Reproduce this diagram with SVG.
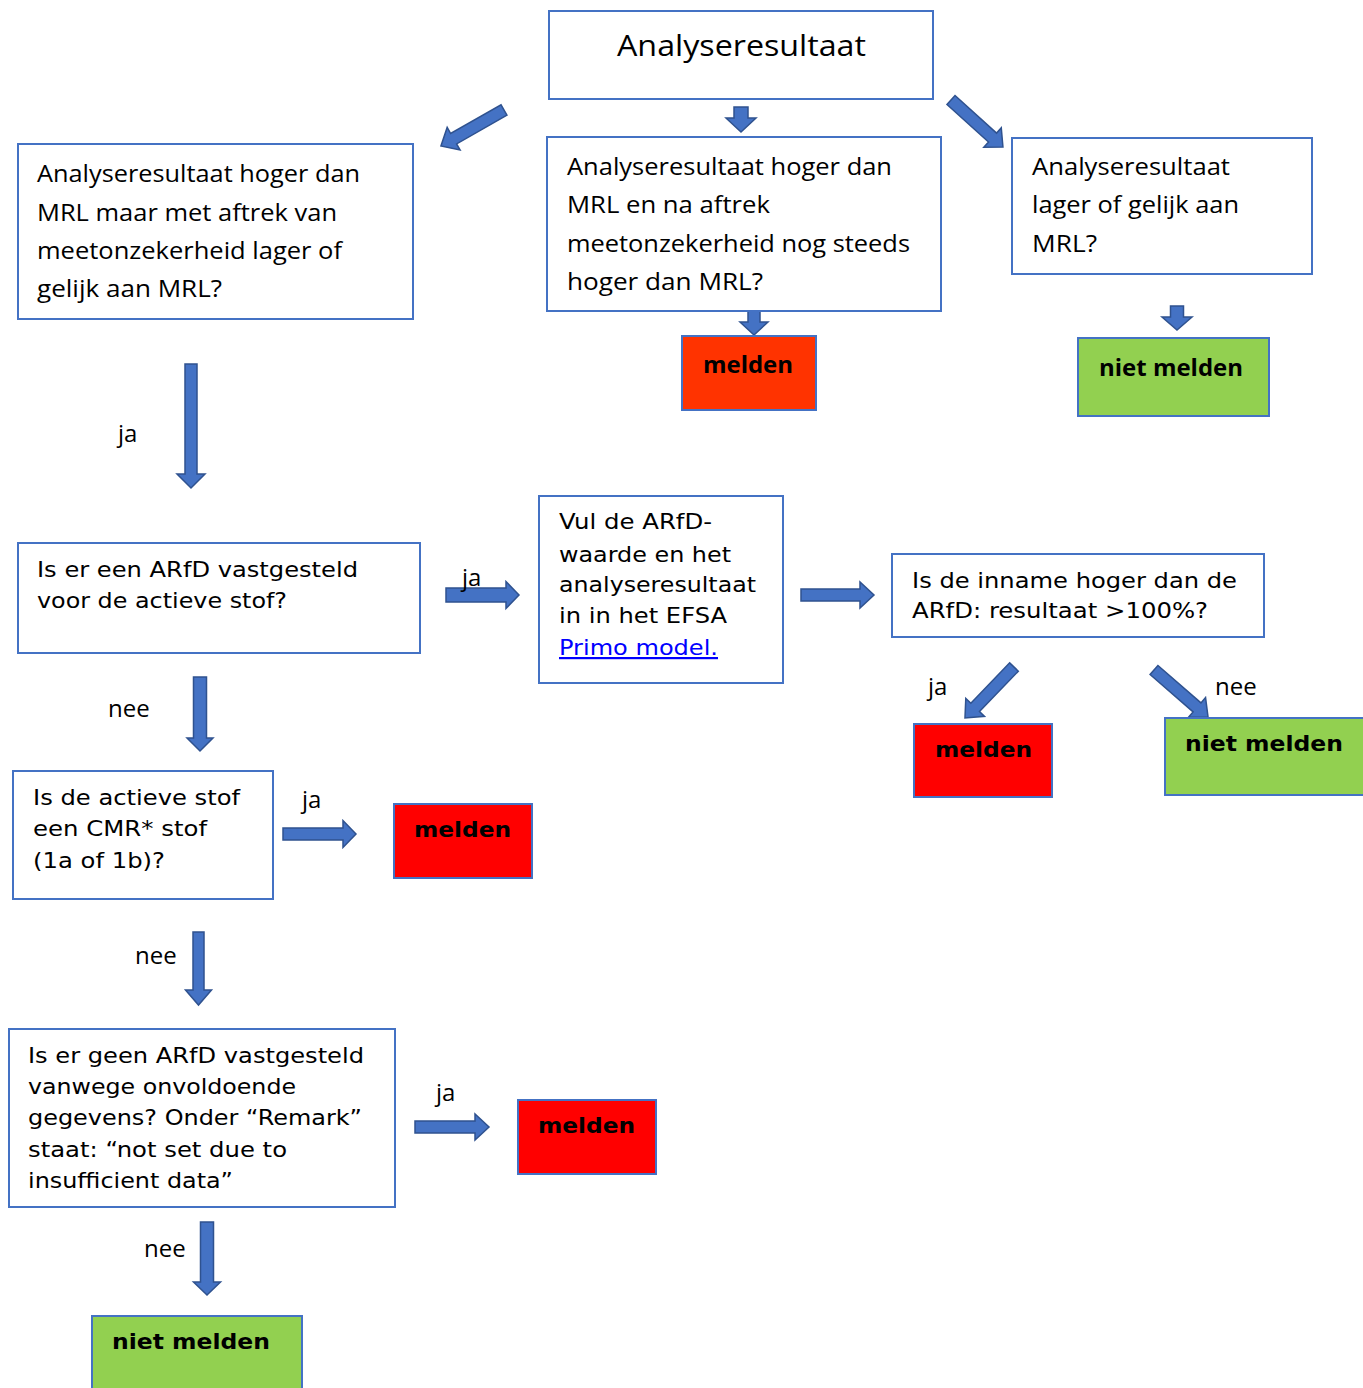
<svg xmlns="http://www.w3.org/2000/svg" width="1363" height="1388" viewBox="0 0 1363 1388">
<style>
.box{fill:#fff;stroke:#4472C4;stroke-width:2}
.red1{fill:#FF3300;stroke:#4472C4;stroke-width:2}
.red{fill:#FF0000;stroke:#4472C4;stroke-width:2}
.green{fill:#92D050;stroke:#4472C4;stroke-width:2}
.arr{fill:#4472C4;stroke:#2F528F;stroke-width:1.5;stroke-linejoin:miter}
.c{font-family:"Open Sans","Noto Sans",sans-serif;font-size:23px;fill:#000}
.cb{font-family:"Open Sans","Noto Sans",sans-serif;font-size:24px;font-weight:bold;fill:#000}
.v{font-family:"DejaVu Sans","Liberation Sans",sans-serif;font-size:22px;fill:#000}
.vb{font-family:"DejaVu Sans","Liberation Sans",sans-serif;font-size:22px;font-weight:bold;fill:#000}
.lbl{font-family:"Open Sans","Noto Sans",sans-serif;font-size:24px;fill:#000}
.link{fill:#0000FF;text-decoration:underline}
</style>
<rect width="1363" height="1388" fill="#fff"/>

<g id="connectors">
  <!-- diagonal arrows from top box -->
  <path class="arr" d="M0,-6 H58 V-13 L72.6,0 L58,13 V6 H0 Z" transform="translate(504,110) rotate(150.3)"/>
  <polygon class="arr" points="734,107 748,107 748,118 756,118 741,132 726,118 734,118"/>
  <path class="arr" d="M0,-6 H56 V-13 L70,0 L56,13 V6 H0 Z" transform="translate(951,100) rotate(42.1)"/>
  <!-- under middle box -->
  <polygon class="arr" points="748,311 760,311 760,322 768,322 754,335 740,322 748,322"/>
  <!-- above right green -->
  <polygon class="arr" points="1170.5,306 1183.5,306 1183.5,317 1192,317 1177,330 1162,317 1170.5,317"/>
  <!-- long down arrow left -->
  <polygon class="arr" points="185,364 197,364 197,474 205,474 191,488 177,474 185,474"/>
  <!-- ARfD ja right -->
  <polygon class="arr" points="446,588 506,588 506,581.5 519,595 506,608.5 506,602 446,602"/>
  <!-- Vul -> inname -->
  <polygon class="arr" points="801,589 860,589 860,582 874,595 860,608 860,601 801,601"/>
  <!-- inname ja / nee diagonals -->
  <path class="arr" d="M0,-6 H56 V-13 L70.7,0 L56,13 V6 H0 Z" transform="translate(1014,667) rotate(133.9)"/>
  <path class="arr" d="M0,-6 H57 V-13 L71.6,0 L57,13 V6 H0 Z" transform="translate(1154,670) rotate(41)"/>
  <!-- ARfD nee down -->
  <polygon class="arr" points="193.5,677 206.5,677 206.5,738 213,738 200,751 187,738 193.5,738"/>
  <!-- CMR ja right -->
  <polygon class="arr" points="283,828 343,828 343,820.5 356,834 343,847.5 343,840 283,840"/>
  <!-- CMR nee down -->
  <polygon class="arr" points="193,932 204,932 204,990 211.5,990 198.5,1005 185.5,990 193,990"/>
  <!-- bottom ja right -->
  <polygon class="arr" points="415,1121 475,1121 475,1114 489,1127 475,1140 475,1133 415,1133"/>
  <!-- bottom nee down -->
  <polygon class="arr" points="200.5,1222 213.5,1222 213.5,1282 220.5,1282 207,1295 193.5,1282 200.5,1282"/>
</g>

<g id="labels">
  <text class="lbl" x="118" y="442">ja</text>
  <text class="lbl" x="462" y="586">ja</text>
  <text class="lbl" x="108" y="717">nee</text>
  <text class="lbl" x="302" y="808">ja</text>
  <text class="lbl" x="135" y="964">nee</text>
  <text class="lbl" x="436" y="1101">ja</text>
  <text class="lbl" x="144" y="1257">nee</text>
  <text class="lbl" x="928" y="695">ja</text>
  <text class="lbl" x="1215" y="695">nee</text>
</g>

<g id="n-analyseresultaat">
  <rect class="box" x="549" y="11" width="384" height="88"/>
  <text class="c" x="617" y="56" style="font-size:30px" textLength="249" lengthAdjust="spacingAndGlyphs">Analyseresultaat</text>
</g>

<g id="n-hoger-maar-lager">
  <rect class="box" x="18" y="144" width="395" height="175"/>
  <text class="c" x="37" y="182" textLength="323" lengthAdjust="spacingAndGlyphs">Analyseresultaat hoger dan</text>
  <text class="c" x="37" y="221" textLength="300" lengthAdjust="spacingAndGlyphs">MRL maar met aftrek van</text>
  <text class="c" x="37" y="259" textLength="305" lengthAdjust="spacingAndGlyphs">meetonzekerheid lager of</text>
  <text class="c" x="37" y="297" textLength="185" lengthAdjust="spacingAndGlyphs">gelijk aan MRL?</text>
</g>

<g id="n-hoger-nog-steeds">
  <rect class="box" x="547" y="137" width="394" height="174"/>
  <text class="c" x="567" y="175" textLength="325" lengthAdjust="spacingAndGlyphs">Analyseresultaat hoger dan</text>
  <text class="c" x="567" y="213" textLength="203" lengthAdjust="spacingAndGlyphs">MRL en na aftrek</text>
  <text class="c" x="567" y="252" textLength="343" lengthAdjust="spacingAndGlyphs">meetonzekerheid nog steeds</text>
  <text class="c" x="567" y="290" textLength="196" lengthAdjust="spacingAndGlyphs">hoger dan MRL?</text>
</g>

<g id="n-lager-gelijk">
  <rect class="box" x="1012" y="138" width="300" height="136"/>
  <text class="c" x="1032" y="175" textLength="198" lengthAdjust="spacingAndGlyphs">Analyseresultaat</text>
  <text class="c" x="1032" y="213" textLength="207" lengthAdjust="spacingAndGlyphs">lager of gelijk aan</text>
  <text class="c" x="1032" y="252" textLength="65" lengthAdjust="spacingAndGlyphs">MRL?</text>
</g>

<g id="n-melden-1">
  <rect class="red1" x="682" y="336" width="134" height="74"/>
  <text class="cb" x="703" y="373" textLength="90" lengthAdjust="spacingAndGlyphs">melden</text>
</g>

<g id="n-niet-melden-1">
  <rect class="green" x="1078" y="338" width="191" height="78"/>
  <text class="cb" x="1099" y="376" textLength="144" lengthAdjust="spacingAndGlyphs">niet melden</text>
</g>

<g id="n-arfd-vastgesteld">
  <rect class="box" x="18" y="543" width="402" height="110"/>
  <text class="v" x="37" y="577" textLength="321" lengthAdjust="spacingAndGlyphs">Is er een ARfD vastgesteld</text>
  <text class="v" x="37" y="608" textLength="250" lengthAdjust="spacingAndGlyphs">voor de actieve stof?</text>
</g>

<g id="n-primo">
  <rect class="box" x="539" y="496" width="244" height="187"/>
  <text class="v" x="559" y="529" textLength="153" lengthAdjust="spacingAndGlyphs">Vul de ARfD-</text>
  <text class="v" x="559" y="562" textLength="172" lengthAdjust="spacingAndGlyphs">waarde en het</text>
  <text class="v" x="559" y="592" textLength="197" lengthAdjust="spacingAndGlyphs">analyseresultaat</text>
  <text class="v" x="559" y="623" textLength="168" lengthAdjust="spacingAndGlyphs">in in het EFSA</text>
  <text class="v link" x="559" y="655" textLength="159" lengthAdjust="spacingAndGlyphs">Primo model.</text>
</g>

<g id="n-inname">
  <rect class="box" x="892" y="554" width="372" height="83"/>
  <text class="v" x="912" y="588" textLength="325" lengthAdjust="spacingAndGlyphs">Is de inname hoger dan de</text>
  <text class="v" x="912" y="618" textLength="296" lengthAdjust="spacingAndGlyphs">ARfD: resultaat &gt;100%?</text>
</g>

<g id="n-melden-2">
  <rect class="red" x="914" y="724" width="138" height="73"/>
  <text class="vb" x="935" y="757" textLength="97" lengthAdjust="spacingAndGlyphs">melden</text>
</g>

<g id="n-niet-melden-2">
  <rect class="green" x="1165" y="718" width="210" height="77"/>
  <text class="vb" x="1185" y="751" textLength="158" lengthAdjust="spacingAndGlyphs">niet melden</text>
</g>

<g id="n-cmr">
  <rect class="box" x="13" y="771" width="260" height="128"/>
  <text class="v" x="33" y="805" textLength="207" lengthAdjust="spacingAndGlyphs">Is de actieve stof</text>
  <text class="v" x="33" y="836" textLength="174" lengthAdjust="spacingAndGlyphs">een CMR* stof</text>
  <text class="v" x="33" y="868" textLength="132" lengthAdjust="spacingAndGlyphs">(1a of 1b)?</text>
</g>

<g id="n-melden-3">
  <rect class="red" x="394" y="804" width="138" height="74"/>
  <text class="vb" x="414" y="837" textLength="97" lengthAdjust="spacingAndGlyphs">melden</text>
</g>

<g id="n-geen-arfd">
  <rect class="box" x="9" y="1029" width="386" height="178"/>
  <text class="v" x="28" y="1063" textLength="336" lengthAdjust="spacingAndGlyphs">Is er geen ARfD vastgesteld</text>
  <text class="v" x="28" y="1094" textLength="268" lengthAdjust="spacingAndGlyphs">vanwege onvoldoende</text>
  <text class="v" x="28" y="1125" textLength="334" lengthAdjust="spacingAndGlyphs">gegevens? Onder “Remark”</text>
  <text class="v" x="28" y="1157" textLength="259" lengthAdjust="spacingAndGlyphs">staat: “not set due to</text>
  <text class="v" x="28" y="1188" textLength="205" lengthAdjust="spacingAndGlyphs">insufficient data”</text>
</g>

<g id="n-melden-4">
  <rect class="red" x="518" y="1100" width="138" height="74"/>
  <text class="vb" x="538" y="1133" textLength="97" lengthAdjust="spacingAndGlyphs">melden</text>
</g>

<g id="n-niet-melden-3">
  <rect class="green" x="92" y="1316" width="210" height="80"/>
  <text class="vb" x="112" y="1349" textLength="158" lengthAdjust="spacingAndGlyphs">niet melden</text>
</g>
</svg>
